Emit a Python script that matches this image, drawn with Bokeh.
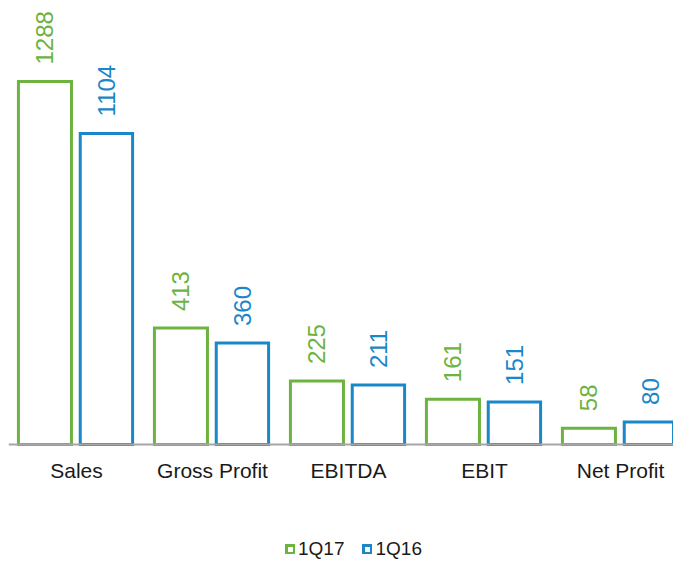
import math
from bokeh.plotting import figure
from bokeh.models import ColumnDataSource, Legend, LegendItem, Range1d, Span
from bokeh.embed import file_html
from bokeh.resources import INLINE
from bokeh.core.properties import value

categories = ["Sales", "Gross Profit", "EBITDA", "EBIT", "Net Profit"]
q17 = [1288, 413, 225, 161, 58]
q16 = [1104, 360, 211, 151, 80]
series_names = ["1Q17", "1Q16"]

GREEN = "#6DB33F"
BLUE = "#1A87C9"
FONT = "Liberation Sans"

W, H = 673, 561
LEFT = 8
FW = W - LEFT
BASE_PX = 444          # baseline position from the top
PX_PER_UNIT = 0.2818
idx = list(range(len(categories)))

src17 = ColumnDataSource(dict(x=[i - 0.232 for i in idx], top=q17, lab=[str(v) for v in q17]))
src16 = ColumnDataSource(dict(x=[i + 0.22 for i in idx], top=q16, lab=[str(v) for v in q16]))
srccat = ColumnDataSource(dict(x=idx, y=[0] * len(idx), lab=categories))

y_start = -(H - BASE_PX) / PX_PER_UNIT
y_end = BASE_PX / PX_PER_UNIT
p = figure(width=W, height=H, output_backend="svg", toolbar_location=None,
           x_range=Range1d(-0.5, -0.5 + FW / 136.0),
           y_range=Range1d(y_start, y_end),
           x_axis_location=None, y_axis_location=None,
           min_border_left=LEFT, min_border_right=0, min_border_top=0, min_border_bottom=0)
p.outline_line_color = None
p.xgrid.visible = False
p.ygrid.visible = False
p.background_fill_color = "white"
p.border_fill_color = "white"

r17 = p.vbar(x="x", top="top", bottom=0, width=0.39, source=src17,
             fill_color="white", line_color=GREEN, line_width=3, line_join="miter")
r16 = p.vbar(x="x", top="top", bottom=0, width=0.385, source=src16,
             fill_color="white", line_color=BLUE, line_width=3, line_join="miter")

for src, col in ((src17, GREEN), (src16, BLUE)):
    p.text(x="x", y="top", text="lab", source=src, angle=math.pi / 2,
           text_align="left", text_baseline="middle", y_offset=-17,
           text_font=value(FONT), text_font_size="24px", text_color=col)

# category labels under the baseline
p.text(x="x", y="y", text="lab", source=srccat, text_align="center",
       text_baseline="middle", y_offset=26,
       text_font=value(FONT), text_font_size="21px", text_color="#1A1A1A")

p.add_layout(Span(location=0, dimension="width", line_color="#A6A6A6", line_width=2))

legend = Legend(items=[LegendItem(label=series_names[0], renderers=[r17]),
                       LegendItem(label=series_names[1], renderers=[r16])],
                orientation="horizontal", location=(277, 1),
                glyph_width=10, glyph_height=10, label_standoff=3, spacing=18,
                label_text_font=FONT, label_text_font_size="19px",
                label_text_color="#1A1A1A", border_line_color=None,
                background_fill_alpha=0, padding=0, margin=0)
legend.label_height = 20
p.add_layout(legend)

open("out.html", "w").write(file_html(p, INLINE))
